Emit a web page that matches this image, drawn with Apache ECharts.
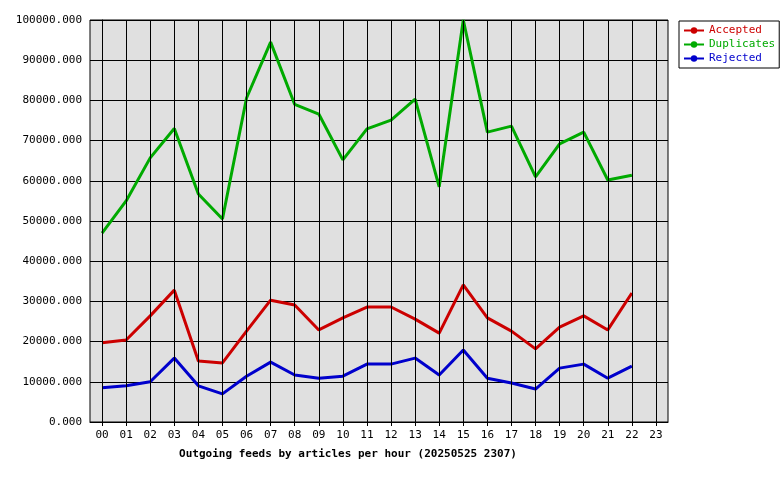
<!DOCTYPE html>
<html><head><meta charset="utf-8">
<script src="https://cdn.jsdelivr.net/npm/echarts@6/dist/echarts.min.js"></script>
<style>body{margin:0;background:#fff}#c{width:780px;height:480px}</style>
</head><body><div id="c"></div>
<script>
const hours = ['00','01','02','03','04','05','06','07','08','09','10','11','12','13','14','15','16','17','18','19','20','21','22','23'];
const accepted = [19700,20400,26400,32800,15200,14700,22600,30300,29100,22900,25900,28600,28600,25600,22100,34100,25900,22600,18200,23600,26400,22900,32100];
const duplicates = [47000,55000,65700,73000,56700,50500,80600,94500,79000,76600,65200,72900,75100,80300,58500,100000,72100,73600,61000,69200,72100,60200,61400];
const rejected = [8500,9000,10000,15900,9000,7000,11400,14900,11700,10900,11400,14400,14400,15900,11700,17900,10900,9700,8200,13400,14400,10900,13900];
const idx = hours.map((h,i)=>i);
const font = 'DejaVu Sans Mono';
function mk(name, vals, color, withGrid){
  const s = {name, type:'line', data: vals.map((v,i)=>[i,v]), symbol:'none',
    lineStyle:{color, width:3}, itemStyle:{color}, z:3};
  if(withGrid){
    s.markLine = {silent:true, symbol:'none', label:{show:false},
      lineStyle:{color:'#000', width:1, type:'solid'},
      data: idx.map(i=>({xAxis:i}))};
  }
  return s;
}
const chart = echarts.init(document.getElementById('c'));
chart.setOption({
  animation:false,
  textStyle:{fontFamily:font},
  title:{text:'Outgoing feeds by articles per hour (20250525 2307)', left:343, textAlign:'center', top:444,
    textStyle:{fontFamily:font, fontSize:11, fontWeight:'bold', color:'#000'}},
  legend:{orient:'vertical', left:679, top:21, backgroundColor:'#fff', borderColor:'#000', borderWidth:1,
    padding:[4,4,4,4], itemGap:3, itemWidth:20, itemHeight:8,
    textStyle:{fontFamily:font, fontSize:11}, 
    data:[{name:'Accepted',textStyle:{color:'#cc0000'}},{name:'Duplicates',textStyle:{color:'#00aa00'}},{name:'Rejected',textStyle:{color:'#0000cc'}}]},
  grid:{left:90, right:112, top:20, bottom:58, show:true, backgroundColor:'#e0e0e0', borderColor:'#000', borderWidth:1},
  xAxis:{type:'value', min:-0.5, max:23.5,
    axisLine:{lineStyle:{color:'#000'}},
    splitLine:{show:false},
    axisTick:{customValues:idx, length:4, lineStyle:{color:'#000'}},
    axisLabel:{customValues:idx, formatter:v=>hours[Math.round(v)], color:'#000', fontFamily:font, fontSize:11}},
  yAxis:{type:'value', min:0, max:100000, interval:10000,
    axisLine:{show:true, lineStyle:{color:'#000'}},
    axisTick:{show:true, length:4, lineStyle:{color:'#000'}},
    splitLine:{lineStyle:{color:'#000', width:1}},
    axisLabel:{formatter:v=>v.toFixed(3), color:'#000', fontFamily:font, fontSize:11}},
  series:[mk('Accepted',accepted,'#cc0000',true), mk('Duplicates',duplicates,'#00aa00',false), mk('Rejected',rejected,'#0000cc',false)]
});
</script></body></html>
